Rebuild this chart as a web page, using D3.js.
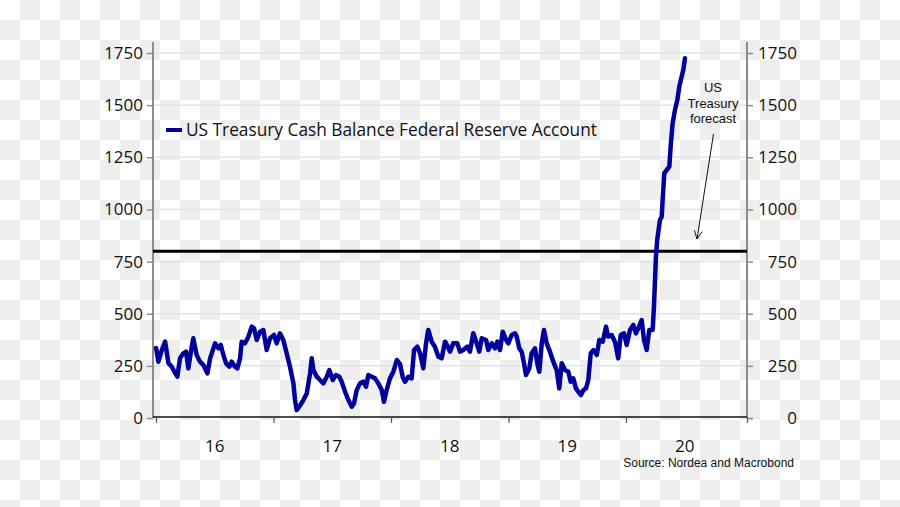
<!DOCTYPE html>
<html>
<head>
<meta charset="utf-8">
<script src="https://cdn.jsdelivr.net/npm/d3@7"></script>
<style>
  html, body { margin: 0; padding: 0; background: #fff; }
  svg { display: block; }
</style>
</head>
<body>
<svg id="chart" width="900" height="507"></svg>
<script>
// ---- Data ----
const seriesName = "US Treasury Cash Balance Federal Reserve Account";
const years = [
  2016.000, 2016.020, 2016.049, 2016.077, 2016.105, 2016.134, 2016.162, 2016.181, 2016.204, 2016.232,
  2016.255, 2016.275, 2016.304, 2016.317, 2016.346, 2016.374, 2016.403, 2016.437, 2016.460, 2016.502,
  2016.530, 2016.551, 2016.573, 2016.596, 2016.624, 2016.644, 2016.672, 2016.692, 2016.715, 2016.729,
  2016.757, 2016.786, 2016.814, 2016.834, 2016.857, 2016.885, 2016.913, 2016.942, 2016.970, 2017.004,
  2017.027, 2017.055, 2017.083, 2017.112, 2017.140, 2017.169, 2017.183, 2017.197, 2017.226, 2017.254,
  2017.283, 2017.311, 2017.325, 2017.339, 2017.368, 2017.396, 2017.424, 2017.453, 2017.475, 2017.504,
  2017.532, 2017.560, 2017.580, 2017.609, 2017.637, 2017.666, 2017.685, 2017.708, 2017.736, 2017.764,
  2017.787, 2017.807, 2017.836, 2017.864, 2017.892, 2017.921, 2017.940, 2017.963, 2017.991, 2018.020,
  2018.049, 2018.077, 2018.100, 2018.119, 2018.147, 2018.176, 2018.196, 2018.224, 2018.247, 2018.275,
  2018.298, 2018.317, 2018.346, 2018.374, 2018.403, 2018.431, 2018.460, 2018.483, 2018.502, 2018.530,
  2018.564, 2018.587, 2018.615, 2018.649, 2018.672, 2018.700, 2018.729, 2018.751, 2018.772, 2018.809,
  2018.828, 2018.857, 2018.885, 2018.905, 2018.928, 2018.951, 2018.979, 2018.998, 2019.027, 2019.055,
  2019.070, 2019.092, 2019.112, 2019.132, 2019.149, 2019.177, 2019.197, 2019.226, 2019.245, 2019.262,
  2019.283, 2019.302, 2019.325, 2019.353, 2019.381, 2019.410, 2019.432, 2019.453, 2019.481, 2019.509,
  2019.529, 2019.551, 2019.574, 2019.594, 2019.617, 2019.637, 2019.660, 2019.679, 2019.700, 2019.722,
  2019.751, 2019.773, 2019.802, 2019.830, 2019.849, 2019.878, 2019.906, 2019.934, 2019.955, 2019.983,
  2020.006, 2020.034, 2020.062, 2020.085, 2020.105, 2020.134, 2020.153, 2020.176, 2020.198, 2020.227,
  2020.238, 2020.255, 2020.266, 2020.289, 2020.304, 2020.312, 2020.326, 2020.346, 2020.369, 2020.380,
  2020.397, 2020.417, 2020.437, 2020.454, 2020.474, 2020.488, 2020.502
];
const values = [
  336, 270, 326, 366, 264, 246, 216, 198, 286, 310,
  318, 238, 342, 382, 302, 270, 254, 214, 286, 358,
  334, 350, 302, 262, 246, 270, 246, 238, 286, 366,
  358, 390, 438, 430, 374, 414, 422, 326, 382, 398,
  358, 406, 374, 310, 246, 166, 86, 38, 60, 86,
  118, 214, 286, 230, 198, 182, 166, 198, 230, 182,
  206, 198, 174, 126, 86, 54, 70, 134, 166, 174,
  150, 206, 198, 190, 166, 134, 78, 134, 190, 222,
  278, 258, 195, 174, 198, 190, 326, 342, 310, 238,
  358, 422, 366, 342, 294, 286, 366, 342, 318, 358,
  358, 318, 326, 342, 318, 406, 358, 318, 382, 374,
  326, 358, 334, 366, 326, 414, 374, 358, 398, 406,
  390, 334, 318, 262, 206, 238, 310, 334, 262, 222,
  358, 422, 358, 318, 270, 230, 142, 262, 230, 222,
  174, 190, 142, 126, 110, 134, 142, 182, 310, 326,
  302, 374, 366, 438, 390, 398, 366, 286, 398, 406,
  350, 422, 446, 406, 430, 470, 374, 326, 422, 422,
  534, 774, 854, 949, 965, 1045, 1173, 1189, 1205, 1301,
  1413, 1477, 1525, 1589, 1637, 1669, 1725
];
const yTicks = [0, 250, 500, 750, 1000, 1250, 1500, 1750];
const xTickYears = [2016, 2017, 2018, 2019, 2020];
const xTickLabels = ["16", "17", "18", "19", "20"];
const forecastLevel = 800;
const annotationLines = ["US", "Treasury", "forecast"];
const sourceText = "Source: Nordea and Macrobond";

(function draw() {
  const svg = d3.select("#chart");
  const W = 900, H = 507;
  const mLeft = 153, mRight = 747, mTop = 53, mBottom = 418, axisTop = 42;
  const mainFont = "'Open Sans', 'Noto Sans', sans-serif";
  const smallFont = "'Liberation Sans', Arial, sans-serif";
  const lineColor = "#00009c";

  // checkerboard background (transparent image look)
  const cells = [];
  for (let r = 0; r < Math.ceil(H / 20); r++)
    for (let c = 0; c < Math.ceil(W / 20); c++)
      if ((r + c) % 2 === 1) cells.push([c, r]);
  svg.append("rect").attr("width", W).attr("height", H).attr("fill", "#ffffff");
  svg.append("g").selectAll("rect").data(cells).join("rect")
    .attr("x", d => d[0] * 20).attr("y", d => d[1] * 20)
    .attr("width", 20).attr("height", 20)
    .style("fill", "#eeeeee");

  const x = d3.scaleLinear().domain([2015.974, 2021.03]).range([mLeft, mRight]);
  const y = d3.scaleLinear().domain([0, 1750]).range([mBottom, mTop]);

  // gridlines
  svg.append("g").selectAll("line").data(yTicks.filter(d => d > 0)).join("line")
    .attr("x1", mLeft).attr("x2", mRight)
    .attr("y1", d => y(d)).attr("y2", d => y(d))
    .attr("stroke", "#dde4eb").attr("stroke-width", 1.5);

  // left axis
  const gL = svg.append("g").attr("transform", `translate(${mLeft},0)`)
    .call(d3.axisLeft(y).tickValues(yTicks).tickFormat(d3.format("d")).tickSize(6).tickPadding(4));
  gL.select(".domain").remove();
  gL.selectAll(".tick line").attr("stroke", "#8c8c8c").attr("stroke-width", 1.5);
  gL.selectAll(".tick text").attr("font-family", mainFont).attr("font-size", 17).attr("fill", "#111");

  // right axis
  const gR = svg.append("g").attr("transform", `translate(${mRight},0)`)
    .call(d3.axisRight(y).tickValues(yTicks).tickFormat(d3.format("d")).tickSize(6));
  gR.select(".domain").remove();
  gR.selectAll(".tick line").attr("stroke", "#8c8c8c").attr("stroke-width", 1.5);
  gR.selectAll(".tick text").attr("font-family", mainFont).attr("font-size", 17).attr("fill", "#111")
    .attr("text-anchor", "end").attr("x", 50);

  // vertical axis lines
  svg.append("line").attr("x1", mLeft).attr("x2", mLeft).attr("y1", axisTop).attr("y2", mBottom)
    .attr("stroke", "#8c8c8c").attr("stroke-width", 2);
  svg.append("line").attr("x1", mRight).attr("x2", mRight).attr("y1", axisTop).attr("y2", mBottom)
    .attr("stroke", "#8c8c8c").attr("stroke-width", 2);

  // bottom axis
  const gB = svg.append("g").attr("transform", `translate(0,${mBottom - 1})`)
    .call(d3.axisBottom(x).tickValues(xTickYears.concat([x.domain()[1]])).tickSize(6).tickFormat(""));
  gB.select(".domain").attr("stroke", "#111").attr("stroke-width", 1.5)
    .attr("d", `M${mLeft},0H${mRight}`);
  gB.selectAll(".tick line").attr("stroke", "#555").attr("stroke-width", 1.2);
  svg.append("g").selectAll("text").data(xTickYears).join("text")
    .attr("x", d => x(d + 0.5)).attr("y", 452)
    .attr("text-anchor", "middle")
    .attr("font-family", mainFont).attr("font-size", 17).attr("fill", "#111")
    .text((d, i) => xTickLabels[i]);

  // forecast level line
  svg.append("line").attr("x1", mLeft).attr("x2", mRight)
    .attr("y1", y(forecastLevel)).attr("y2", y(forecastLevel))
    .attr("stroke", "#000").attr("stroke-width", 3);

  // series line
  const pts = years.map((yr, i) => [yr, values[i]]);
  svg.append("path").datum(pts)
    .attr("fill", "none").attr("stroke", lineColor).attr("stroke-width", 4.5)
    .attr("stroke-linejoin", "round").attr("stroke-linecap", "round")
    .attr("d", d3.line().x(d => x(d[0])).y(d => y(d[1])));

  // legend
  svg.append("line").attr("x1", 166).attr("x2", 182).attr("y1", 130).attr("y2", 130)
    .attr("stroke", lineColor).attr("stroke-width", 4);
  svg.append("text").attr("x", 186).attr("y", 136)
    .attr("font-family", mainFont).attr("font-size", 17.3).attr("fill", "#111")
    .text(seriesName);

  // annotation
  svg.append("g").selectAll("text").data(annotationLines).join("text")
    .attr("x", 713).attr("y", (d, i) => 92 + i * 15.5)
    .attr("text-anchor", "middle")
    .attr("font-family", smallFont).attr("font-size", 13).attr("fill", "#111")
    .text(d => d);
  const ax1 = 713.5, ay1 = 134, ax2 = 697, ay2 = 239;
  svg.append("line").attr("x1", ax1).attr("y1", ay1).attr("x2", ax2).attr("y2", ay2)
    .attr("stroke", "#111").attr("stroke-width", 1);
  const ang = Math.atan2(ay2 - ay1, ax2 - ax1);
  const hl = 9, ha = 0.45;
  svg.append("path")
    .attr("d", `M${ax2 - hl * Math.cos(ang - ha)},${ay2 - hl * Math.sin(ang - ha)}L${ax2},${ay2}L${ax2 - hl * Math.cos(ang + ha)},${ay2 - hl * Math.sin(ang + ha)}`)
    .attr("fill", "none").attr("stroke", "#111").attr("stroke-width", 1);

  // source
  svg.append("text").attr("x", 794).attr("y", 467).attr("text-anchor", "end")
    .attr("font-family", smallFont).attr("font-size", 12).attr("fill", "#111")
    .text(sourceText);
})();
</script>
</body>
</html>
